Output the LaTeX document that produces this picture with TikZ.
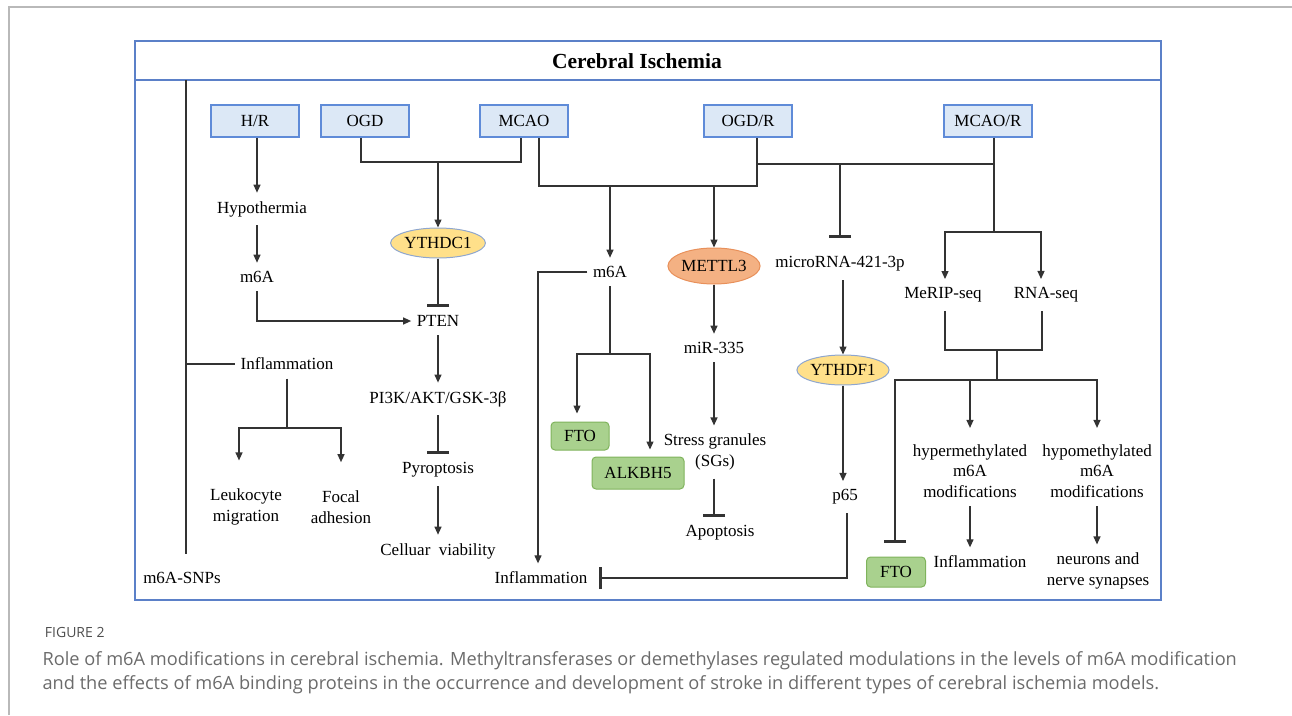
\documentclass[tikz,border=0pt]{standalone}
\usepackage{fontspec}
\setmainfont{Liberation Serif}
\newfontfamily\capfont{Open Sans}
\usepackage{tikz}
\usetikzlibrary{arrows.meta, shapes.geometric, positioning}
\definecolor{framec}{HTML}{5B80C8}
\definecolor{boxline}{HTML}{5F8BD8}
\definecolor{boxfill}{HTML}{DCE8F6}
\definecolor{grnfill}{HTML}{A9D18E}
\definecolor{grnline}{HTML}{7FB35C}
\definecolor{orgfill}{HTML}{F4B183}
\definecolor{orgline}{HTML}{E8905A}
\definecolor{ylwfill}{HTML}{FFE08A}
\definecolor{ylwline}{HTML}{8EA6CF}
\definecolor{linec}{HTML}{333333}
\definecolor{capgray}{HTML}{6B6B6B}

\begin{document}
\begin{tikzpicture}[x=1pt, y=-1pt, line width=1.2pt,
    every node/.style={font=\fontsize{17}{20.5}\selectfont},
    lbl/.style={align=center, inner xsep=5pt, inner ysep=8pt},
    src/.style={draw=boxline, fill=boxfill, line width=1.6pt, minimum width=88pt, minimum height=32pt, inner sep=0pt},
    grn/.style={draw=grnline, fill=grnfill, line width=1pt, rounded corners=4pt, inner sep=0pt},
    oval/.style={ellipse, line width=1pt, inner sep=0pt},
    wire/.style={draw=linec},
    arr/.style={draw=linec, -{Triangle[length=8pt, width=7pt]}},
    inh/.style={draw=linec, -{Bar[width=22pt, line width=3pt]}}]
            \useasboundingbox (0,0) rectangle (1292,715);
            \draw[gray!55, line width=1.5pt] (9,715) -- (9,7) -- (1292,7);
            \draw[framec, line width=1.5pt] (135,41) rectangle (1161,600);
            \draw[framec, line width=1.5pt] (135,80) -- (1161,80);
            \node[font=\fontsize{21.5}{24}\selectfont\bfseries] at (637,61) (title) {Cerebral Ischemia};

            \node[src] at (255,121) (hr) {H/R};
            \node[src] at (365,121) (ogd) {OGD};
            \node[src] at (524,121) (mcao) {MCAO};
            \node[src] at (748,121) (ogdr) {OGD/R};
            \node[src] at (988,121) (mcaor) {MCAO/R};

            \node[lbl] at (262,209) (hypo) {Hypothermia};
            \node[lbl] at (257,277) (mA1) {m6A};
            \node[oval, draw=ylwline, fill=ylwfill, minimum width=80pt, minimum height=30pt] at (438,243) (ythdc) {YTHDC1};
            \node[lbl] at (438,321) (pten) {PTEN};
            \node[lbl] at (438,399) (pik) {PI3K/AKT/GSK-3β};
            \node[lbl] at (438,470) (pyro) {Pyroptosis};
            \node[lbl] at (438,551) (cell) {Celluar~ viability};
            \node[lbl] at (287,364) (infL) {Inflammation};
            \node[lbl] at (246,507) (leuk) {Leukocyte\\migration};
            \node[lbl] at (341,507) (focal) {Focal\\adhesion};
            \node[lbl] at (182,578) (snp) {m6A-SNPs};

            \node[lbl] at (610,272) (mA2) {m6A};
            \node[oval, draw=orgline, fill=orgfill, minimum width=88pt, minimum height=36pt] at (714,266) (mettl) {METTL3};
            \node[grn, minimum width=58pt, minimum height=28pt] at (580,436) (fto1) {FTO};
            \node[grn, minimum width=92pt, minimum height=32pt] at (638,473) (alk) {ALKBH5};
            \node[lbl] at (714,348) (mir) {miR-335};
            \node[lbl] at (715,452) (sg) {Stress granules\\(SGs)};
            \node[lbl] at (720,533) (apo) {Apoptosis};
            \node[lbl] at (541,578) (infM) {Inflammation};

            \node[lbl] at (840,264) (mirna) {microRNA-421-3p};
            \node[oval, draw=ylwline, fill=ylwfill, minimum width=76pt, minimum height=30pt] at (843,370) (ythdf) {YTHDF1};
            \node[lbl] at (845,497) (p65) {p65};

            \node[lbl] at (943,295) (merip) {MeRIP-seq};
            \node[lbl] at (1046,295) (rnaseq) {RNA-seq};
            \node[grn, minimum width=59pt, minimum height=30pt] at (896,572) (fto2) {FTO};
            \node[lbl] at (970,471) (hyper) {hypermethylated\\m6A\\modifications};
            \node[lbl] at (1097,471) (hypom) {hypomethylated\\m6A\\modifications};
            \node[lbl] at (980,562) (infR) {Inflammation};
            \node[lbl] at (1098,571) (neur) {neurons and\\nerve synapses};

            \coordinate (bar) at (186,80);
            \coordinate (jo) at (438,162);
            \coordinate (jm) at (610,186);
            \coordinate (jr) at (840,164);
            \coordinate (js) at (994,232);
            \coordinate (jf) at (610,354);
            \coordinate (jl) at (287,428);
            \coordinate (jq) at (997,350);
            \coordinate (jt) at (997,380);

            \draw[wire, shorten >=10pt] (bar) -- (bar |- snp.north);
            \draw[wire] (bar |- infL) -- (infL.west);
            \draw[wire] (infL.south) -- (jl);
            \draw[arr, shorten >=20pt] (jl) -| ([xshift=-7pt]leuk.north);
            \draw[arr, shorten >=20pt] (jl) -| (focal.north);

            \draw[arr] ([xshift=2pt]hr.south) -- ([xshift=2pt]hr.south |- hypo.north);
            \draw[arr] (mA1 |- hypo.south) -- (mA1.north);
            \draw[arr] (mA1.south) |- (pten.west);
            \draw[wire] ([xshift=-4pt]ogd.south) |- (jo) -| ([xshift=-3pt]mcao.south);
            \draw[arr] (jo) -- (ythdc.north);
            \draw[inh] (ythdc.south) -- (pten.north);
            \draw[arr] (pten) -- (pik);
            \draw[inh] (pik) -- (pyro);
            \draw[arr] (pyro) -- (cell);

            \draw[wire] ([xshift=15pt]mcao.south) |- (jm) -| ([xshift=9pt]ogdr.south);
            \draw[arr] (jm) -- (mA2.north);
            \draw[arr] (mettl |- jm) -- (mettl.north);
            \draw[wire] ([xshift=9pt]ogdr.south |- jr) -- ([xshift=6pt]mcaor.south |- jr);
            \draw[inh, shorten >=10pt] (jr) -- (mirna.north);
            \draw[wire] ([xshift=6pt]mcaor.south) -- (js);
            \draw[arr] (js) -| ([xshift=2pt]merip.north);
            \draw[arr] (js) -| ([xshift=-5pt]rnaseq.north);

            \draw[arr] (mA2.west) -| ([xshift=-3pt]infM.north);
            \draw[wire] (mA2.south) -- (jf);
            \draw[arr, shorten >=8pt] (jf) -| ([xshift=-3pt]fto1.north);
            \draw[arr, shorten >=7pt] (jf) -| ([xshift=12pt]alk.north);
            \draw[arr] (mettl) -- (mir);
            \draw[arr] (mir) -- (mir |- sg.north);
            \draw[inh] (sg.south -| mettl) -- (mettl |- apo.north);

            \draw[arr] (mirna.south -| ythdf) -- (ythdf.north);
            \draw[arr] (ythdf) -- (ythdf |- p65.north);
            \draw[inh, shorten >=6pt] ([xshift=2pt]p65.south) |- (infM.east);

            \draw[wire] ([xshift=2pt]merip.south) |- (jq) -| ([xshift=-4pt]rnaseq.south);
            \draw[wire] (jq) -- (jt);
            \draw[inh, shorten >=14pt] (jt) -| ([xshift=-1pt]fto2.north);
            \draw[arr, shorten >=8pt] (jt) -| (hyper.north);
            \draw[arr, shorten >=8pt] (jt) -| (hypom.north);
            \draw[arr] (hyper) -- (hyper |- infR.north);
            \draw[arr] (hypom) -- (hypom |- neur.north);

            \node[anchor=base west, font=\capfont\fontsize{14}{16}\selectfont, text=capgray!120] at (41,637) (fig) {FIGURE 2};
            \node[anchor=base west, font=\capfont\fontsize{18.2}{20}\selectfont, text=capgray, inner sep=0pt] at (42,665) (cap1) {Role of m6A modifications in cerebral ischemia. Methyltransferases or demethylases regulated modulations in the levels of m6A modification};
            \node[anchor=base west, font=\capfont\fontsize{18.2}{20}\selectfont, text=capgray, inner sep=0pt] at (42,689) (cap2) {and the effects of m6A binding proteins in the occurrence and development of stroke in different types of cerebral ischemia models.};
        \end{tikzpicture}
\end{document}
